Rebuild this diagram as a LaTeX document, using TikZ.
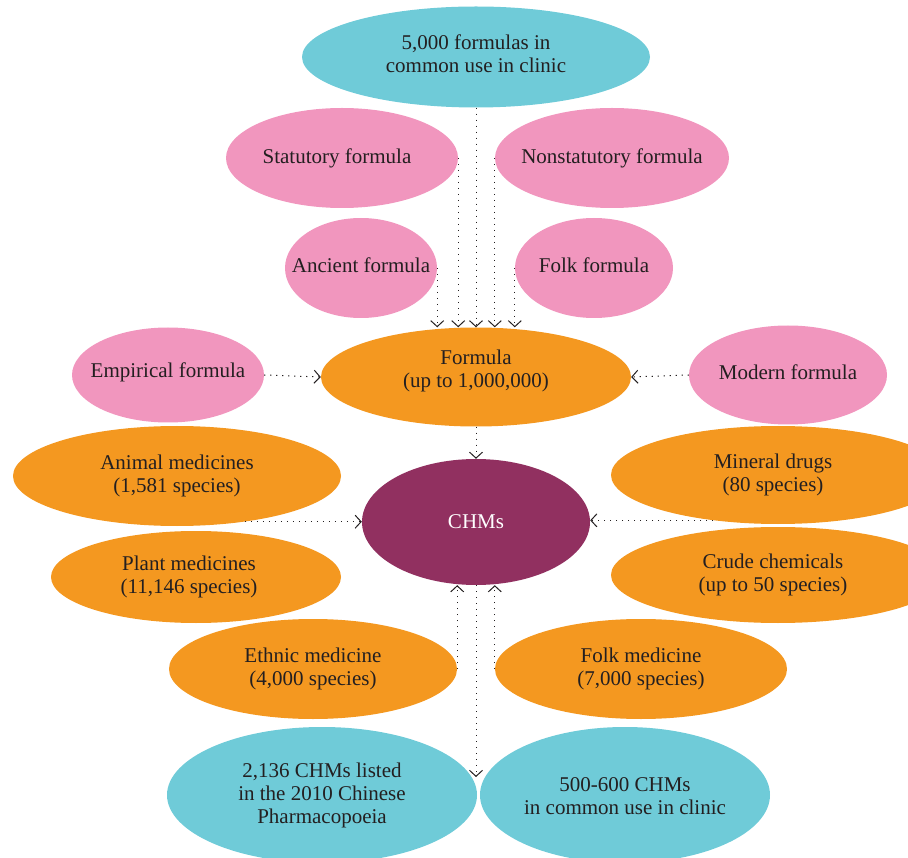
\documentclass[tikz,border=0pt]{standalone}
\usepackage{fontspec}
\setmainfont{Liberation Serif}
\usepackage{tikz}
\usetikzlibrary{arrows.meta, positioning, shapes.geometric}
\definecolor{chmcyan}{HTML}{6FCBD8}
\definecolor{chmpink}{HTML}{F196BE}
\definecolor{chmorange}{HTML}{F49820}
\definecolor{chmpurple}{HTML}{913060}
\definecolor{chmink}{HTML}{231F20}

\begin{document}
\begin{tikzpicture}[
      x=1pt, y=-1pt,
      blob/.style={ellipse, fill=#1, draw=none, inner sep=0pt},
      lab/.style={font=\fontsize{21}{23}\selectfont, align=center, text=chmink, inner sep=0pt},
      arrow/.style={-{Straight Barb[length=6pt, width=13pt]}, line width=1pt, chmink, dash pattern=on 1.2pt off 4.8pt}
  ]
    \useasboundingbox (0,0) rectangle (908,858);
    \clip (0,0) rectangle (908,858);

    % formula level
    \node[blob=chmcyan, minimum width=348pt, minimum height=101pt, label={[lab, yshift=3pt]center:5,000 formulas in\\common use in clinic}] (top) at (476,57) {};
    \node[blob=chmpink, minimum width=232pt, minimum height=100pt, label={[lab, xshift=-5pt]center:Statutory formula}] (stat) at (342,158) {};
    \node[blob=chmpink, minimum width=234pt, minimum height=100pt, label={[lab]center:Nonstatutory formula}] (nonst) at (612,158) {};
    \node[blob=chmpink, minimum width=152pt, minimum height=100pt, label={[lab, yshift=3pt]center:Ancient formula}] (anc) at (361,268) {};
    \node[blob=chmpink, minimum width=158pt, minimum height=100pt, label={[lab, yshift=3pt]center:Folk formula}] (folkf) at (594,268) {};
    \node[blob=chmpink, minimum width=192pt, minimum height=95pt, label={[lab, yshift=3pt]center:Empirical formula}] (emp) at (168,375) {};
    \node[blob=chmorange, minimum width=310pt, minimum height=99pt, label={[lab, yshift=6pt]center:Formula\\(up to 1,000,000)}] (form) at (476,377) {};
    \node[blob=chmpink, minimum width=198pt, minimum height=99pt, label={[lab, yshift=3pt]center:Modern formula}] (modern) at (788,375) {};

    % medicine level
    \node[blob=chmorange, minimum width=328pt, minimum height=100pt, label={[lab]center:Animal medicines\\(1,581 species)}] (animal) at (177,476) {};
    \node[blob=chmorange, minimum width=334pt, minimum height=98pt, label={[lab, xshift=-5pt]center:Mineral drugs\\(80 species)}] (mineral) at (778,475) {};
    \node[blob=chmpurple, minimum width=228pt, minimum height=126pt, label={[lab, text=white]center:CHMs}] (chm) at (476,522) {};
    \node[blob=chmorange, minimum width=290pt, minimum height=92pt, label={[lab, xshift=-7pt]center:Plant medicines\\(11,146 species)}] (plant) at (196,577) {};
    \node[blob=chmorange, minimum width=334pt, minimum height=96pt, label={[lab, xshift=-5pt]center:Crude chemicals\\(up to 50 species)}] (crude) at (778,575) {};
    \node[blob=chmorange, minimum width=288pt, minimum height=100pt, label={[lab]center:Ethnic medicine\\(4,000 species)}] (ethnic) at (313,669) {};
    \node[blob=chmorange, minimum width=292pt, minimum height=100pt, label={[lab]center:Folk medicine\\(7,000 species)}] (folkm) at (641,669) {};

    % use level
    \node[blob=chmcyan, minimum width=310pt, minimum height=136pt, label={[lab]center:2,136 CHMs listed\\in the 2010 Chinese\\Pharmacopoeia}] (pharm) at (322,795) {};
    \node[blob=chmcyan, minimum width=290pt, minimum height=136pt, label={[lab, yshift=-1pt]center:500-600 CHMs\\in common use in clinic}] (usec) at (625,795) {};
    \coordinate (gap) at (476,777);

    \draw[arrow] (top.south) -- (form.north);
    \draw[arrow] (stat.east) -- (stat.east |- form.north);
    \draw[arrow] (nonst.west) -- (nonst.west |- form.north);
    \draw[arrow] (anc.east) -- (anc.east |- form.north);
    \draw[arrow] (folkf.west) -- (folkf.west |- form.north);
    \draw[arrow] (emp.east) -- (form.west);
    \draw[arrow] (modern.west) -- (form.east);

    \draw[arrow] (form.south) -- (chm.north);
    \draw[arrow] (animal.-34) -- (animal.-34 -| chm.west);
    \draw[arrow] (mineral.215) -- (mineral.215 -| chm.east);
    \draw[arrow] (ethnic.east) -- (ethnic.east |- chm.south);
    \draw[arrow] (folkm.west) -- (folkm.west |- chm.south);
    \draw[arrow] (chm.south) -- (gap);
  \end{tikzpicture}
\end{document}
